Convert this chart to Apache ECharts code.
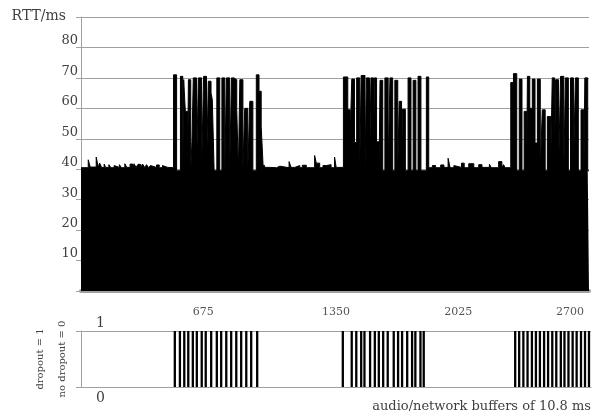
<!DOCTYPE html>
<html>
<head>
<meta charset="utf-8">
<script src="https://cdn.jsdelivr.net/npm/echarts@6/dist/echarts.min.js"></script>
<style>
html,body{margin:0;padding:0;background:#fff;}
#chart{width:592px;height:416px;}
</style>
</head>
<body>
<div id="chart"></div>
<script>
// RTT per audio/network buffer (step function: value holds from this buffer index to the next)
const bufferIdx = [
  0,40,51,84,95,103,114,128,136,154,165,183,194,212,223,242,253,271,285,293,304,315,329,340,351,362,373,384,395,417,432,450,461,479,490,
  511,528,549,562,567,576,589,593,606,613,620,638,648,666,677,693,703,718,725,735,750,766,778,794,803,821,831,845,860,869,877,894,904,921,932,949,968,983,995,1006,
  1010,1017,1043,1050,1080,1098,1149,1160,1180,1208,1222,1244,1290,1299,1318,1336,1354,1363,1381,1400,1409,
  1449,1473,1486,1495,1510,1522,1539,1547,1568,1576,1593,1601,1615,1620,1632,1646,1651,1666,1678,1696,1706,1721,1733,1749,1757,1770,1775,1791,1806,1822,1834,1849,1861,1877,1907,1920,
  1940,1958,1986,2004,2027,2038,2059,2066,2101,2116,2141,2169,2196,2214,2255,2266,2306,2324,2333,2342,
  2373,2388,2406,2420,2435,2447,2461,2465,2478,2492,2507,2520,2536,2547,2563,2575,2593,2602,2615,2620,2637,2648,2666,2675,2691,2703,2719,2730,2746,2761,2777,2782,2798,2805
];
const rttMs = [
  40.5,43.1,40.7,44,40.7,42,40.6,41.7,40.6,41.5,40.5,41.2,40.6,41.5,40.5,41.8,40.6,41.7,40.5,41.8,40.6,41.6,40.5,41.7,40.6,41.5,40.5,41.2,40.6,41.4,40.5,41.2,40.6,41,40.5,
  71,39.5,70.5,39.5,69.4,59,39.5,69.4,39.5,49.7,70,39.5,70,39.5,70.5,39.5,68.9,65,62.8,39.5,70,39.5,70,39.5,70,39.5,70,69.4,59.5,39.5,69.4,39.5,60,39.5,62.3,39.5,71,65.6,54,40.5,
  41.4,40.6,41.2,40.5,41,40.5,42.5,40.6,41.2,40.5,41.3,40.5,44.5,42,40.5,41.2,40.6,41.5,40.5,44,40.6,
  70.3,59.5,49.7,69.6,48.8,70,39.5,70.8,39.5,70,39.5,70,39.5,70,49,39.5,69.2,39.5,70,39.5,70,39.5,69.2,39.5,62.3,39.5,59.7,39.5,70,39.5,69.2,39.5,70.5,39.5,70.3,40.5,
  41.2,40.5,41.4,40.6,43.6,40.5,41.2,40.6,42,40.5,41.8,40.5,41.5,40.6,41.6,40.5,42.5,40.6,41.5,40.5,
  68.5,71.4,39.5,69.6,39.5,59,39.5,70.5,60,69.6,48.6,69.6,39.5,59.5,39.5,57.3,39.5,70,39.5,69.4,39.5,70.5,39.5,70,39.5,70,39.5,70,39.5,59.5,39.5,70,39.5,39.5
];
// buffers flagged as dropouts (value 1)
const dropoutIdx = [
  516,544,568,590,615,637,664,686,716,747,771,799,826,854,881,909,936,969,
  1440,1489,1514,1541,1559,1590,1616,1638,1662,1687,1720,1744,1766,1794,1821,1839,1867,1885,
  2388,2410,2433,2456,2480,2502,2524,2547,2569,2592,2614,2639,2659,2681,2704,2726,2750,2772,2794
];
const xTickLabels = [675, 1350, 2025, 2700];
const rttTickLabels = [10, 20, 30, 40, 50, 60, 70, 80];
const xMax = 2805;

const FONT = 'DejaVu Serif';
const GRAY = '#a0a0a0';
const TXT = '#404040';

const rttData = bufferIdx.map((x, i) => [x, rttMs[i]]);
const dropData = dropoutIdx.map(x => [x, 1]);

const chart = echarts.init(document.getElementById('chart'), null, {renderer: 'canvas'});
chart.setOption({
  animation: false,
  backgroundColor: '#fff',
  grid: [
    {left: 81, right: 0, top: 17, height: 274},
    {left: 81, right: 0, top: 331, height: 56}
  ],
  xAxis: [
    {
      type: 'value', gridIndex: 0, min: 0, max: xMax, interval: 675, offset: 2,
      axisLine: {show: true, lineStyle: {color: GRAY, width: 4}},
      axisTick: {show: false},
      splitLine: {show: false},
      axisLabel: {
        margin: 14, fontFamily: FONT, fontSize: 11, color: '#555',
        formatter: v => {
          if (xTickLabels.indexOf(v) < 0) return '';
          if (v === 1350 || v === 2025) return '{s|' + v + '}';
          return String(v);
        },
        rich: {s: {fontFamily: FONT, fontSize: 11, color: '#555', padding: [0, 0, 0, 21]}}
      }
    },
    {
      type: 'value', gridIndex: 1, min: 0, max: xMax,
      axisLine: {show: true, lineStyle: {color: GRAY, width: 1}},
      axisTick: {show: false},
      axisLabel: {show: false},
      splitLine: {show: false},
      name: 'audio/network buffers of 10.8 ms',
      nameLocation: 'end', nameGap: 0,
      nameTextStyle: {fontFamily: FONT, fontSize: 13, color: TXT, align: 'right', verticalAlign: 'top', padding: [13, 0, 0, 0]}
    }
  ],
  yAxis: [
    {
      type: 'value', gridIndex: 0, min: 0, max: 90, interval: 10,
      axisLine: {show: true, lineStyle: {color: GRAY, width: 1}},
      axisTick: {show: true, length: 5, lineStyle: {color: GRAY}},
      splitLine: {show: true, lineStyle: {color: GRAY, width: 1}},
      axisLabel: {
        margin: 3, fontFamily: FONT, fontSize: 13, color: TXT, verticalAlign: 'bottom',
        formatter: v => rttTickLabels.indexOf(v) >= 0 ? String(v) : ''
      },
      name: 'RTT/ms', nameLocation: 'end', nameGap: 1,
      nameTextStyle: {fontFamily: FONT, fontSize: 14, color: TXT, align: 'right', verticalAlign: 'middle', padding: [0, 15, 0, 0]}
    },
    {
      type: 'value', gridIndex: 1, min: 0, max: 1, interval: 1,
      axisLine: {show: true, lineStyle: {color: GRAY, width: 1}},
      axisTick: {show: true, length: 5, lineStyle: {color: GRAY}},
      splitLine: {show: true, lineStyle: {color: GRAY, width: 1}},
      axisLabel: {
        margin: -15, align: 'left', fontFamily: FONT, fontSize: 14, color: TXT,
        formatter: v => v === 1 ? '{t|1}' : '{b|0}',
        rich: {
          t: {fontFamily: FONT, fontSize: 14, color: TXT, padding: [0, 0, 15, 0]},
          b: {fontFamily: FONT, fontSize: 14, color: TXT, padding: [22, 0, 0, 0]}
        }
      },
      name: 'dropout = 1\nno dropout = 0',
      nameLocation: 'middle', nameRotate: 90, nameGap: 23,
      nameTextStyle: {fontFamily: FONT, fontSize: 10, color: TXT, lineHeight: 22, align: 'center', verticalAlign: 'middle'}
    }
  ],
  series: [
    {
      type: 'line', xAxisIndex: 0, yAxisIndex: 0, data: rttData,
      step: 'end', showSymbol: false, symbol: 'none',
      lineStyle: {color: '#000', width: 1},
      areaStyle: {color: '#000', opacity: 1},
      itemStyle: {color: '#000'}
    },
    {
      type: 'bar', xAxisIndex: 1, yAxisIndex: 1, data: dropData,
      barWidth: 2.3, itemStyle: {color: '#000'}
    }
  ]
});
</script>
</body>
</html>
